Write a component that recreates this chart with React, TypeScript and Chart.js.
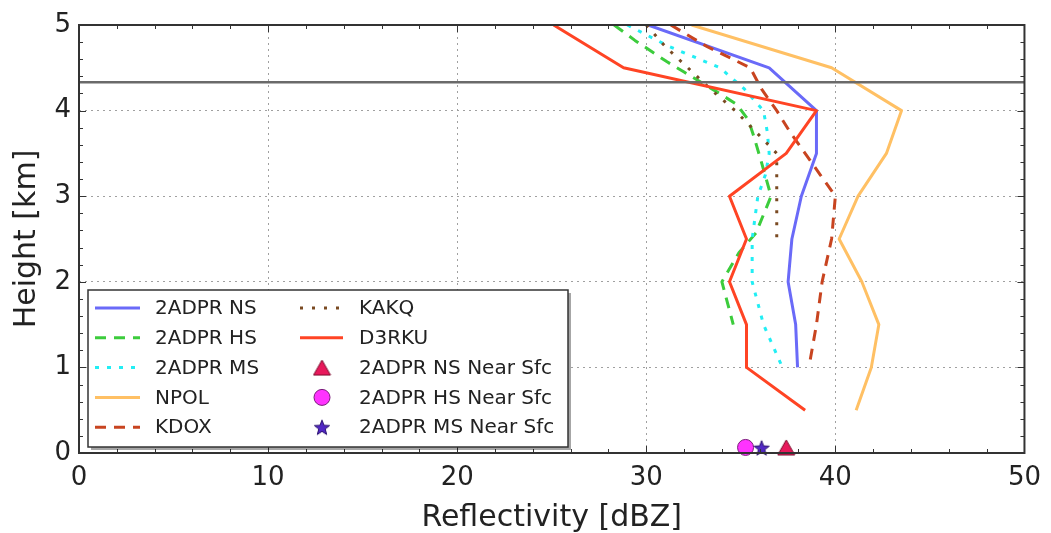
import React, { useEffect, useRef } from 'react';
import { Chart, registerables } from 'chart.js';

Chart.register(...registerables);

const FONT = "'DejaVu Sans', 'Liberation Sans', sans-serif";

// ---- axis settings ----
const xMin = 0;
const xMax = 50;
const xMajorStep = 10;
const xMinorStep = 2;
const yMin = 0;
const yMax = 5;
const yMajorStep = 1;
const yMinorStep = 0.2;

// ---- data (height km / reflectivity dBZ) ----
const nsHeight = [5.0, 4.5, 4.0, 3.5, 3.0, 2.5, 2.0, 1.5, 1.0];
const nsDbz = [30.1, 36.5, 39.0, 39.0, 38.2, 37.7, 37.5, 37.9, 38.0];

const hsHeight = [5.0, 4.82, 4.57, 4.45, 4.21, 4.07, 3.89, 3.69, 3.39, 3.0, 2.57, 2.34, 2.0, 1.5];
const hsDbz = [28.3, 29.4, 31.1, 32.0, 33.8, 34.8, 35.4, 35.7, 36.1, 36.6, 35.8, 34.9, 34.0, 34.6];

const msHeight = [5.0, 4.75, 4.5, 4.25, 4.0, 3.75, 3.5, 3.25, 3.0, 2.5, 2.0, 1.5, 1.0];
const msDbz = [29.0, 31.2, 33.9, 35.2, 36.2, 36.4, 36.5, 36.3, 35.9, 35.6, 35.6, 36.2, 37.2];

const npolHeight = [5.0, 4.5, 4.0, 3.5, 3.0, 2.5, 2.0, 1.5, 1.0, 0.5];
const npolDbz = [32.4, 39.8, 43.5, 42.7, 41.2, 40.2, 41.4, 42.3, 41.9, 41.1];

const kdoxHeight = [5.0, 4.75, 4.5, 4.25, 4.0, 3.75, 3.5, 3.25, 3.0, 2.5, 2.0, 1.5, 1.0];
const kdoxDbz = [31.3, 33.2, 35.5, 36.1, 36.9, 37.6, 38.4, 39.2, 40.0, 39.8, 39.3, 39.0, 38.6];

const kakqHeight = [5.0, 4.75, 4.5, 4.25, 4.0, 3.75, 3.5, 3.0, 2.5];
const kakqDbz = [30.0, 31.0, 32.2, 33.4, 34.7, 35.8, 36.9, 36.9, 36.9];

const d3rkuHeight = [5.0, 4.5, 4.0, 3.5, 3.0, 2.5, 2.0, 1.5, 1.0, 0.5];
const d3rkuDbz = [25.1, 28.8, 39.0, 37.4, 34.4, 35.3, 34.4, 35.3, 35.3, 38.4];

const nearSfcHeight = [0.065, 0.065, 0.06];
const nearSfcDbz = [37.4, 35.25, 36.1]; // NS, HS, MS

const freezingLevel = 4.33;

const labels = {
  ns: '2ADPR NS',
  hs: '2ADPR HS',
  ms: '2ADPR MS',
  npol: 'NPOL',
  kdox: 'KDOX',
  kakq: 'KAKQ',
  d3rku: 'D3RKU',
  nsSfc: '2ADPR NS Near Sfc',
  hsSfc: '2ADPR HS Near Sfc',
  msSfc: '2ADPR MS Near Sfc',
};

const pairs = (h: number[], v: number[]) => h.map((y, i) => ({ x: v[i], y }));

function makeStar(fill: string, stroke: string) {
  const c = document.createElement('canvas');
  const s = 18;
  c.width = s;
  c.height = s;
  const g = c.getContext('2d')!;
  const cx = s / 2, cy = s / 2 + 0.8, ro = 8, ri = 3.4;
  g.beginPath();
  for (let i = 0; i < 10; i++) {
    const r = i % 2 === 0 ? ro : ri;
    const a = -Math.PI / 2 + (i * Math.PI) / 5;
    const px = cx + r * Math.cos(a), py = cy + r * Math.sin(a);
    if (i === 0) g.moveTo(px, py); else g.lineTo(px, py);
  }
  g.closePath();
  g.fillStyle = fill;
  g.fill();
  g.strokeStyle = stroke;
  g.lineWidth = 1;
  g.stroke();
  return c;
}

function makeTriangle(fill: string, stroke: string) {
  const c = document.createElement('canvas');
  c.width = 19;
  c.height = 17;
  const g = c.getContext('2d')!;
  g.beginPath();
  g.moveTo(9.5, 1);
  g.lineTo(18, 16);
  g.lineTo(1, 16);
  g.closePath();
  g.fillStyle = fill;
  g.fill();
  g.strokeStyle = stroke;
  g.lineWidth = 1;
  g.stroke();
  return c;
}

const frameTicksPlugin = {
  id: 'frameTicks',
  afterDatasetsDraw(chart: any) {
    const { ctx, chartArea: a, scales } = chart;
    const xs = scales.x, ys = scales.y;
    ctx.save();
    ctx.strokeStyle = '#333';
    ctx.lineWidth = 1;
    const nx = Math.round((xMax - xMin) / xMinorStep);
    for (let i = 1; i < nx; i++) {
      const v = xMin + i * xMinorStep;
      const major = Math.abs(v / xMajorStep - Math.round(v / xMajorStep)) < 1e-6;
      const len = major ? 7 : 4;
      const px = Math.round(xs.getPixelForValue(v)) + 0.5;
      ctx.beginPath();
      ctx.moveTo(px, a.bottom);
      ctx.lineTo(px, a.bottom - len);
      ctx.moveTo(px, a.top);
      ctx.lineTo(px, a.top + len);
      ctx.stroke();
    }
    const ny = Math.round((yMax - yMin) / yMinorStep);
    for (let i = 1; i < ny; i++) {
      const v = yMin + i * yMinorStep;
      const major = Math.abs(v / yMajorStep - Math.round(v / yMajorStep)) < 1e-6;
      const len = major ? 7 : 4;
      const py = Math.round(ys.getPixelForValue(v)) + 0.5;
      ctx.beginPath();
      ctx.moveTo(a.left, py);
      ctx.lineTo(a.left + len, py);
      ctx.moveTo(a.right, py);
      ctx.lineTo(a.right - len, py);
      ctx.stroke();
    }
    ctx.lineWidth = 2;
    ctx.strokeStyle = '#333';
    ctx.strokeRect(a.left, a.top, a.right - a.left, a.bottom - a.top);
    ctx.restore();
  },
};

const legendPlugin = {
  id: 'boxLegend',
  afterDraw(chart: any) {
    const { ctx } = chart;
    const ds = chart.data.datasets;
    const find = (l: string) => ds.find((d: any) => d.label === l);
    const bx = 88, by = 290, bw = 480, bh = 157;
    ctx.save();
    ctx.fillStyle = 'rgba(0,0,0,0.35)';
    ctx.fillRect(bx + 3, by + 3, bw, bh);
    ctx.fillStyle = '#ffffff';
    ctx.fillRect(bx, by, bw, bh);
    ctx.strokeStyle = '#333';
    ctx.lineWidth = 1.5;
    ctx.strokeRect(bx, by, bw, bh);

    const rowY = (i: number) => 308 + i * 29.8;
    ctx.font = `20px ${FONT}`;
    ctx.textBaseline = 'middle';
    ctx.textAlign = 'left';

    const drawLineItem = (label: string, i: number, x0: number, x1: number, tx: number) => {
      const d = find(label);
      const y = rowY(i);
      ctx.save();
      ctx.strokeStyle = d.borderColor;
      ctx.lineWidth = d.borderWidth;
      ctx.setLineDash(d.borderDash || []);
      ctx.beginPath();
      ctx.moveTo(x0, y);
      ctx.lineTo(x1, y);
      ctx.stroke();
      ctx.restore();
      ctx.fillStyle = '#222';
      ctx.fillText(label, tx, y + 1);
    };
    const drawMarkerItem = (label: string, i: number, cx: number, tx: number) => {
      const d = find(label);
      const y = rowY(i);
      const st = d.pointStyle;
      if (typeof st === 'string') {
        ctx.beginPath();
        ctx.arc(cx, y, d.pointRadius, 0, Math.PI * 2);
        ctx.fillStyle = d.pointBackgroundColor;
        ctx.fill();
        ctx.strokeStyle = d.pointBorderColor;
        ctx.lineWidth = d.pointBorderWidth;
        ctx.stroke();
      } else {
        ctx.drawImage(st, cx - st.width / 2, y - st.height / 2);
      }
      ctx.fillStyle = '#222';
      ctx.fillText(label, tx, y + 1);
    };

    drawLineItem(labels.ns, 0, 95, 140, 155);
    drawLineItem(labels.hs, 1, 95, 140, 155);
    drawLineItem(labels.ms, 2, 95, 140, 155);
    drawLineItem(labels.npol, 3, 95, 140, 155);
    drawLineItem(labels.kdox, 4, 95, 140, 155);
    drawLineItem(labels.kakq, 0, 300, 343, 359);
    drawLineItem(labels.d3rku, 1, 300, 343, 359);
    drawMarkerItem(labels.nsSfc, 2, 322, 359);
    drawMarkerItem(labels.hsSfc, 3, 322, 359);
    drawMarkerItem(labels.msSfc, 4, 322, 359);
    ctx.restore();
  },
};

export default function App() {
  const ref = useRef<HTMLCanvasElement | null>(null);

  useEffect(() => {
    if (!ref.current) return;
    const star = makeStar('#5128c4', '#2a1070');
    const tri = makeTriangle('#e8195c', '#7a0a2a');

    const lineDs = (label: string, h: number[], v: number[], color: string, dash: number[], width: number, order: number) => ({
      label,
      data: pairs(h, v),
      borderColor: color,
      backgroundColor: color,
      borderWidth: width,
      borderDash: dash,
      borderJoinStyle: 'round',
      borderCapStyle: 'butt',
      pointRadius: 0,
      showLine: true,
      fill: false,
      order,
    });

    const chart = new Chart(ref.current, {
      type: 'scatter',
      data: {
        datasets: [
          lineDs(labels.ns, nsHeight, nsDbz, '#6a6af8', [], 3, 8),
          lineDs(labels.hs, hsHeight, hsDbz, '#3ccc3c', [11, 8], 3, 7),
          lineDs(labels.ms, msHeight, msDbz, '#22eef4', [4, 8], 3, 6),
          lineDs(labels.npol, npolHeight, npolDbz, '#ffc064', [], 3, 5),
          lineDs(labels.kdox, kdoxHeight, kdoxDbz, '#c84420', [11, 8], 3, 4),
          lineDs(labels.kakq, kakqHeight, kakqDbz, '#7a4a22', [3, 9], 3, 3),
          lineDs(labels.d3rku, d3rkuHeight, d3rkuDbz, '#ff4424', [], 3, 2),
          {
            label: 'freezing',
            data: [
              { x: xMin, y: freezingLevel },
              { x: xMax, y: freezingLevel },
            ],
            borderColor: '#6a6a6a',
            borderWidth: 2.5,
            pointRadius: 0,
            showLine: true,
            order: 1,
          },
          {
            label: labels.nsSfc,
            data: [{ x: nearSfcDbz[0], y: nearSfcHeight[0] }],
            pointStyle: tri,
            pointRadius: 9,
            showLine: false,
            clip: false,
            order: 0,
          },
          {
            label: labels.hsSfc,
            data: [{ x: nearSfcDbz[1], y: nearSfcHeight[1] }],
            pointStyle: 'circle',
            pointRadius: 8,
            pointBackgroundColor: '#ff33ff',
            pointBorderColor: '#7a1a7a',
            pointBorderWidth: 1,
            showLine: false,
            clip: false,
            order: 0,
          },
          {
            label: labels.msSfc,
            data: [{ x: nearSfcDbz[2], y: nearSfcHeight[2] }],
            pointStyle: star,
            pointRadius: 8,
            showLine: false,
            clip: false,
            order: -1,
          },
        ] as any,
      },
      options: {
        animation: false,
        responsive: false,
        devicePixelRatio: 1,
        layout: { padding: { left: 0, top: 25, right: 25, bottom: 0 } },
        plugins: { legend: { display: false }, tooltip: { enabled: false } },
        events: [],
        scales: {
          x: {
            type: 'linear',
            min: xMin,
            max: xMax,
            afterFit: (s: any) => { s.height = 80; },
            ticks: {
              stepSize: xMajorStep,
              font: { family: FONT, size: 26 },
              color: '#222',
              padding: 10,
              maxRotation: 0,
              autoSkip: false,
            },
            grid: {
              color: (c: any) => (c.tick && (c.tick.value === xMin || c.tick.value === xMax) ? 'rgba(0,0,0,0)' : '#a0a0a0'),
              lineWidth: 1,
              drawTicks: false,
            },
            border: { display: false, dash: [2, 4] },
            title: {
              display: true,
              text: 'Reflectivity [dBZ]',
              font: { family: FONT, size: 30, lineHeight: 1 },
              color: '#222',
              padding: 0,
            },
          },
          y: {
            type: 'linear',
            min: yMin,
            max: yMax,
            afterFit: (s: any) => { s.width = 79; },
            ticks: {
              stepSize: yMajorStep,
              font: { family: FONT, size: 26 },
              color: '#222',
              padding: 8,
              autoSkip: false,
            },
            grid: {
              color: (c: any) => (c.tick && (c.tick.value === yMin || c.tick.value === yMax) ? 'rgba(0,0,0,0)' : '#a0a0a0'),
              lineWidth: 1,
              drawTicks: false,
            },
            border: { display: false, dash: [2, 4] },
            title: {
              display: true,
              text: 'Height [km]',
              font: { family: FONT, size: 30, lineHeight: 1 },
              color: '#222',
              padding: { top: 12, bottom: 0 },
            },
          },
        },
      } as any,
      plugins: [frameTicksPlugin, legendPlugin],
    });
    return () => chart.destroy();
  }, []);

  return (
    <div style={{ position: 'fixed', left: 0, top: 0, width: 1051, height: 533, background: '#fff' }}>
      <canvas ref={ref} width={1051} height={533} style={{ display: 'block' }} />
    </div>
  );
}
